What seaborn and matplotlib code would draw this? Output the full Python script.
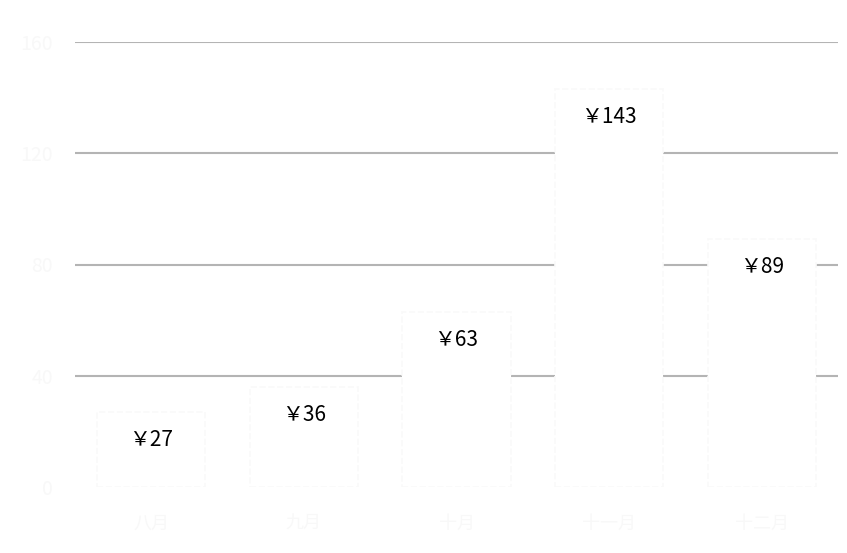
import matplotlib
matplotlib.use("Agg")
import numpy as np
import pandas as pd
import seaborn as sns
import matplotlib.pyplot as plt

# 数据
months = ["八月", "九月", "十月", "十一月", "十二月"]
prices = [27, 36, 63, 143, 89]
y_ticks = [0, 40, 80, 120, 160]

data = pd.DataFrame({"month": months, "price": prices})

sns.set_style("white")
plt.rcParams['font.family'] = ['Noto Sans CJK SC', 'DejaVu Sans']

fig = plt.figure(figsize=(8.47, 5.53), dpi=100)
ax = fig.add_axes([75 / 847, 1 - 487 / 553, (838 - 75) / 847, (487 - 42) / 553])

sns.barplot(x="month", y="price", data=data, ax=ax, color="white",
            width=0.71, edgecolor="#f9f9f9", linestyle="--", linewidth=1.2,
            saturation=1)

# 网格线在柱子后面
ax.set_axisbelow(True)
ax.set_ylim(0, 160)
ax.set_yticks(y_ticks)
ax.yaxis.grid(True, color="#b4b4b4", linewidth=1.5)
ax.yaxis.get_gridlines()[0].set_visible(False)
for s in ax.spines.values():
    s.set_visible(False)

# 坐标轴文字几乎是白色
ax.tick_params(axis='y', labelsize=14, colors="#f8f8f8", length=0, pad=16)
ax.tick_params(axis='x', labelsize=13, colors="#f8f8f8", length=0, pad=20)
ax.set_xlabel("")
ax.set_ylabel("")

# 数值标签
for i, v in enumerate(prices):
    ax.annotate("￥" + str(v), xy=(i, v), xytext=(0, -28),
                textcoords="offset pixels", ha="center", va="center",
                fontsize=15, color="black")

fig.savefig("out.png", dpi=100)
